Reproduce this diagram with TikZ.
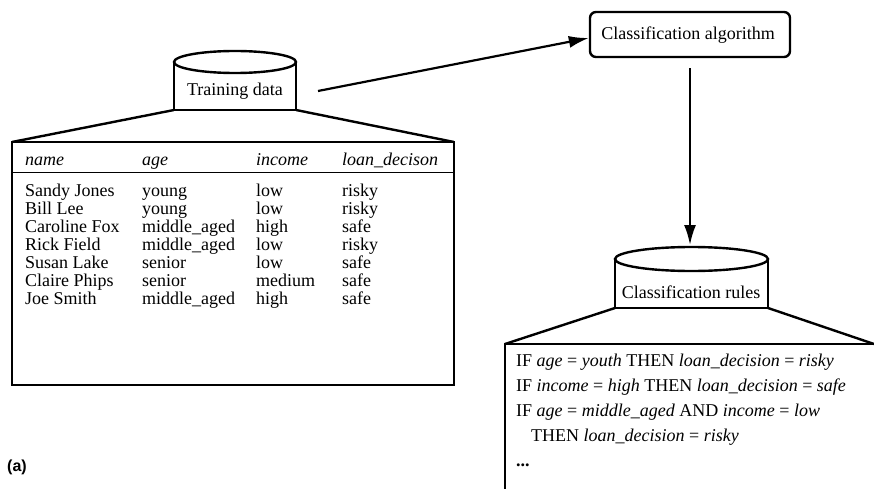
\documentclass[tikz,border=0pt]{standalone}
\usepackage{fontspec}
\setmainfont{Liberation Serif}
\newfontfamily\labfont{Liberation Sans}
\usetikzlibrary{arrows.meta}
\tikzset{
  thick line/.style={line width=2.4pt, line join=miter},
  thin rule/.style={line width=0.8pt},
  arr/.style={line width=2.2pt, -{Latex[length=20pt,width=12pt]}},
  txt/.style={font=\fontsize{18}{20}\selectfont, inner sep=0pt, anchor=base west},
  ctxt/.style={font=\fontsize{18}{20}\selectfont, inner sep=0pt, anchor=base},
  algbox/.style={draw, line width=2.4pt, rounded corners=6pt, minimum width=200pt, minimum height=45pt, inner sep=0pt}
}
\begin{document}
\begin{tikzpicture}[x=1pt,y=-1pt]
\useasboundingbox (0,0) rectangle (874,489);

% ---------- Training data cylinder ----------
\draw[thick line] (235,62) ellipse [x radius=61, y radius=11];
\draw[thick line] (174,62) -- (174,110) -- (296,110) -- (296,62);
\node[ctxt] (train) at (235,96) {Training data};

% trapezoid to table
\draw[thick line] (174,110) -- (12,142);
\draw[thick line] (296,110) -- (454,142);

% table
\draw[thick line] (12,142) rectangle (454,385);
\draw[thin rule] (12,172) -- (454,172);

% header
\node[txt] (hname) at (25,165) {\textit{name}};
\node[txt] (hage) at (142,165) {\textit{age}};
\node[txt] (hinc) at (256,165) {\textit{income}};
\node[txt] (hloan) at (342,165) {\textit{loan\_decison}};

% rows
\foreach \n/\a/\i/\l [count=\k] in {
  Sandy Jones/young/low/risky,
  Bill Lee/young/low/risky,
  Caroline Fox/middle\_aged/high/safe,
  Rick Field/middle\_aged/low/risky,
  Susan Lake/senior/low/safe,
  Claire Phips/senior/medium/safe,
  Joe Smith/middle\_aged/high/safe}{
  \node[txt] (rn\k) at (25,{196+18*(\k-1)}) {\n};
  \node[txt] (ra\k) at (142,{196+18*(\k-1)}) {\a};
  \node[txt] (ri\k) at (256,{196+18*(\k-1)}) {\i};
  \node[txt] (rl\k) at (342,{196+18*(\k-1)}) {\l};
}

% ---------- Classification algorithm ----------
\node[algbox] (alg) at (690,34.5) {};
\node[ctxt] (algtext) at (688,40) {Classification algorithm};

\coordinate (trainOut) at (318,91);
\draw[arr] (trainOut) -- ([yshift=-3.5pt]alg.west);

% ---------- Classification rules cylinder ----------
\coordinate (rulesTop) at (690,245);
\draw[arr, shorten <=10pt] (alg.south -| rulesTop) -- (rulesTop);

\draw[thick line] (691.5,259) ellipse [x radius=76.5, y radius=12];
\draw[thick line] (615,259) -- (615,308) -- (768,308) -- (768,259);
\node[ctxt] (rules) at (691,298) {Classification rules};

\draw[thick line] (615,308) -- (505,344);
\draw[thick line] (768,308) -- (874,344);
\draw[thick line] (874,344) -- (505,344) -- (505,489);

\node[txt] (rule1) at (516,366) {IF \textit{age} = \textit{youth} THEN \textit{loan\_decision} = \textit{risky}};
\node[txt] (rule2) at (516,391) {IF \textit{income} = \textit{high} THEN \textit{loan\_decision} = \textit{safe}};
\node[txt] (rule3) at (516,416) {IF \textit{age} = \textit{middle\_aged} AND \textit{income} = \textit{low}};
\node[txt] (rule4) at (531,441) {THEN \textit{loan\_decision} = \textit{risky}};
\node[txt] (rule5) at (516,466) {\textbf{...}};

% label
\node[txt, font=\labfont\bfseries\fontsize{16}{18}\selectfont] (lab) at (7,471) {(a)};
\end{tikzpicture}
\end{document}
